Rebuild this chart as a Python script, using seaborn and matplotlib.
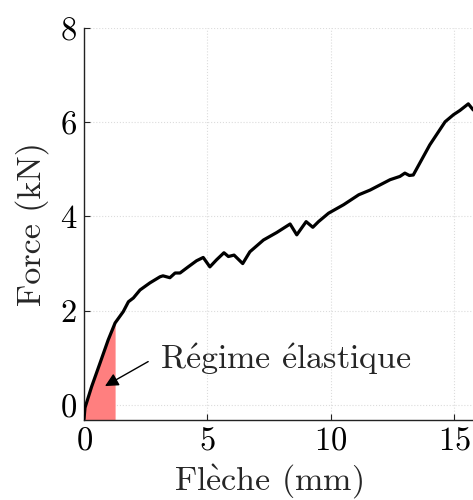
import pandas as pd
import seaborn as sns
import numpy as np
import matplotlib.pyplot as plt

# essai de flexion : fleche (mm) / force (kN)
fleche = [0.0, 0.04, 0.31, 0.65, 0.98, 1.26, 1.59, 1.80, 2.0, 2.27, 2.67, 3.08, 3.2, 3.48, 3.69,
          3.89, 4.22, 4.56, 4.83, 5.10, 5.37, 5.67, 5.85, 6.08, 6.43, 6.72, 7.27, 7.81, 8.35,
          8.62, 9.0, 9.27, 9.50, 9.91, 10.52, 11.13, 11.59, 12.40, 12.80, 13.0, 13.18, 13.34,
          14.01, 14.63, 14.97, 15.23, 15.57, 15.77]
force = [-0.3, -0.06, 0.39, 0.89, 1.38, 1.74, 1.98, 2.19, 2.27, 2.44, 2.59, 2.72, 2.74, 2.70, 2.80,
         2.80, 2.93, 3.06, 3.13, 2.93, 3.08, 3.23, 3.15, 3.18, 3.0, 3.25, 3.50, 3.66, 3.84,
         3.61, 3.89, 3.77, 3.89, 4.07, 4.25, 4.46, 4.56, 4.78, 4.85, 4.92, 4.87, 4.88,
         5.52, 6.01, 6.16, 6.25, 6.39, 6.26]
lim_elastique = 1.26
x_ticks = [0, 5, 10, 15]
y_ticks = [0, 2, 4, 6, 8]

df = pd.DataFrame({'fleche': fleche, 'force': force})

sns.set_theme(style="white")
plt.rcParams['font.family'] = ['cmr10', 'DejaVu Serif']
plt.rcParams['mathtext.fontset'] = 'cm'
plt.rcParams['axes.formatter.use_mathtext'] = True
plt.rcParams['axes.unicode_minus'] = False

fig, ax = plt.subplots(figsize=(4.73, 5.0), dpi=100)
fig.subplots_adjust(left=0.1776, right=1.0, bottom=0.16, top=0.944)

ymin = -0.32
el = df[df.fleche <= lim_elastique]
ax.fill_between(el.fleche, ymin, el.force, color='#ff7f7f', linewidth=0, zorder=1)
sns.lineplot(data=df, x='fleche', y='force', color='black', linewidth=2.3, ax=ax, zorder=3)

ax.set_xlim(0, 15.76)
ax.set_ylim(ymin, 8)
ax.set_xticks(x_ticks)
ax.set_yticks(y_ticks)
ax.grid(True, linestyle=':', color='#dcdcdc', linewidth=0.8)
for s in ['top', 'right']:
    ax.spines[s].set_visible(False)
for s in ['left', 'bottom']:
    ax.spines[s].set_color('#222222')
    ax.spines[s].set_linewidth(1.0)
ax.tick_params(direction='in', length=4, width=0.8, labelsize=23.5, colors='#222222', labelcolor='black',
               left=True, bottom=True, pad=5)

ax.set_xlabel(r'Fl$\grave{\mathrm{e}}$che (mm)', fontsize=24.5)
ax.xaxis.set_label_coords(0.474, -0.106)
ax.set_ylabel('Force (kN)', fontsize=24.5, labelpad=8)

ax.text(3.09, 0.96, r'R$\acute{\mathrm{e}}$gime $\acute{\mathrm{e}}$lastique', fontsize=24.5, va='center', ha='left')
ax.annotate('', xy=(0.85, 0.40), xytext=(2.6, 0.92),
            arrowprops=dict(arrowstyle='-|>', color='black', lw=1.0, mutation_scale=20,
                            shrinkA=0, shrinkB=0))

fig.savefig('out.png', dpi=100)
